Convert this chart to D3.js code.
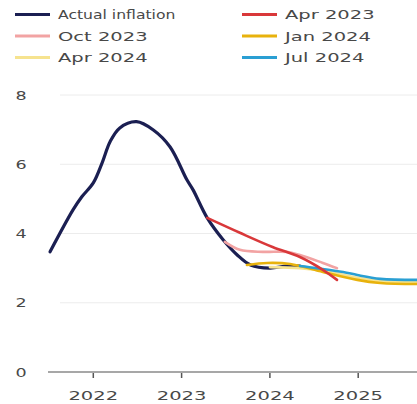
<!DOCTYPE html>
<html>
<head>
<meta charset="utf-8">
<script src="https://cdn.jsdelivr.net/npm/d3@7"></script>
<style>
  body { margin: 0; background: #fff; }
  svg { display: block; }
  text { font-family: "DejaVu Sans", sans-serif; fill: #484848; }
</style>
</head>
<body>
<svg id="chart" width="417" height="404"></svg>
<script>
// decimal-year dates and inflation values (%)
const actualDates = [2021.51, 2021.77, 2021.87, 2022.0, 2022.1, 2022.19, 2022.3, 2022.49, 2022.68, 2022.87, 2023.06, 2023.13, 2023.29, 2023.47, 2023.63, 2023.78, 2024.0, 2024.19, 2024.34];
const actualValues = [3.47, 4.68, 5.06, 5.46, 6.04, 6.65, 7.05, 7.23, 6.99, 6.5, 5.55, 5.26, 4.45, 3.82, 3.38, 3.09, 3.0, 3.06, 3.06];

const apr23Dates = [2023.29, 2023.66, 2024.03, 2024.34, 2024.6, 2024.76];
const apr23Values = [4.45, 4.02, 3.61, 3.32, 2.95, 2.66];

const oct23Dates = [2023.49, 2023.66, 2023.92, 2024.19, 2024.34, 2024.6, 2024.76];
const oct23Values = [3.76, 3.53, 3.47, 3.47, 3.38, 3.15, 3.0];

const jan24Dates = [2023.74, 2023.97, 2024.23, 2024.6, 2024.99, 2025.25, 2025.67];
const jan24Values = [3.09, 3.15, 3.12, 2.89, 2.66, 2.57, 2.54];

const apr24Dates = [2024.0, 2024.34, 2024.68, 2024.99, 2025.25, 2025.67];
const apr24Values = [3.03, 3.0, 2.89, 2.72, 2.63, 2.6];

const jul24Dates = [2024.34, 2024.53, 2024.83, 2024.99, 2025.25, 2025.67];
const jul24Values = [3.06, 3.0, 2.89, 2.8, 2.69, 2.66];

const yTicks = [0, 2, 4, 6, 8];
const xTicks = [2022, 2023, 2024, 2025];

const seriesNames = ["Actual inflation", "Apr 2023", "Oct 2023", "Jan 2024", "Apr 2024", "Jul 2024"];
const seriesColors = ["#1b1f52", "#d9383a", "#f2a3a3", "#e8b20c", "#f6e38f", "#2a9fd3"];

const zip = (ds, vs) => ds.map((d, i) => ({ t: d, v: vs[i] }));
const series = [
    { name: "Actual inflation", data: zip(actualDates, actualValues) },
    { name: "Apr 2023", data: zip(apr23Dates, apr23Values) },
    { name: "Oct 2023", data: zip(oct23Dates, oct23Values) },
    { name: "Jan 2024", data: zip(jan24Dates, jan24Values) },
    { name: "Apr 2024", data: zip(apr24Dates, apr24Values) },
    { name: "Jul 2024", data: zip(jul24Dates, jul24Values) }
];
const color = d3.scaleOrdinal().domain(seriesNames).range(seriesColors);

const svg = d3.select("#chart");
const x = d3.scaleLinear().domain([2022, 2025]).range([93.3, 358.2]);
const y = d3.scaleLinear().domain([0, 8]).range([372, 95]);

// stretch glyphs horizontally, the source font is wide (digits even more)
function stretch(sel, k) {
    sel.each(function (d) {
        const w = this.getComputedTextLength();
        const f = typeof k === "function" ? k(d) : k;
        d3.select(this).attr("textLength", w * f).attr("lengthAdjust", "spacingAndGlyphs");
    });
}

// gridlines
svg.append("g").selectAll("line").data(yTicks.filter(d => d > 0)).join("line")
    .attr("x1", 60).attr("x2", 417)
    .attr("y1", d => y(d)).attr("y2", d => y(d))
    .attr("stroke", "#ececec").attr("stroke-width", 1);

// y labels
svg.append("g").selectAll("text").data(yTicks).join("text")
    .attr("x", 21).attr("y", d => y(d)).attr("dy", "0.36em")
    .attr("text-anchor", "middle").attr("font-size", 13)
    .text(d => d).call(stretch, 1.35);

// x axis
svg.append("line").attr("x1", 48).attr("x2", 417).attr("y1", y(0)).attr("y2", y(0))
    .attr("stroke", "#8a8a8a").attr("stroke-width", 1.5);
svg.append("g").selectAll("line").data(xTicks).join("line")
    .attr("x1", d => x(d)).attr("x2", d => x(d))
    .attr("y1", y(0) + 1).attr("y2", y(0) + 6)
    .attr("stroke", "#555").attr("stroke-width", 1.5);
svg.append("g").selectAll("text").data(xTicks).join("text")
    .attr("x", d => x(d)).attr("y", 400)
    .attr("text-anchor", "middle").attr("font-size", 13)
    .text(d => d).call(stretch, 1.5);

// lines
const line = d3.line().x(d => x(d.t)).y(d => y(d.v)).curve(d3.curveCatmullRom.alpha(0.5));
const drawOrder = ["Actual inflation", "Apr 2024", "Oct 2023", "Jan 2024", "Jul 2024", "Apr 2023"];
svg.append("g").selectAll("path").data(drawOrder.map(n => series.find(s => s.name === n))).join("path")
    .attr("d", d => line(d.data))
    .attr("fill", "none")
    .attr("stroke", d => color(d.name))
    .attr("stroke-width", d => d.name === "Actual inflation" ? 3.2 : 2.6)
    .attr("stroke-linecap", "round")
    .attr("stroke-linejoin", "round");

// legend, two columns
const legend = svg.append("g").selectAll("g").data(seriesNames).join("g")
    .attr("transform", (d, i) => `translate(${i % 2 === 0 ? 15 : 242},${14.5 + Math.floor(i / 2) * 21.5})`);
legend.append("line").attr("x1", 0).attr("x2", 35)
    .attr("stroke", d => color(d)).attr("stroke-width", 3);
legend.append("text").attr("x", 43).attr("dy", "0.36em")
    .attr("font-size", 13).text(d => d)
    .call(stretch, d => /\d/.test(d) ? 1.5 : 1.2);
</script>
</body>
</html>
